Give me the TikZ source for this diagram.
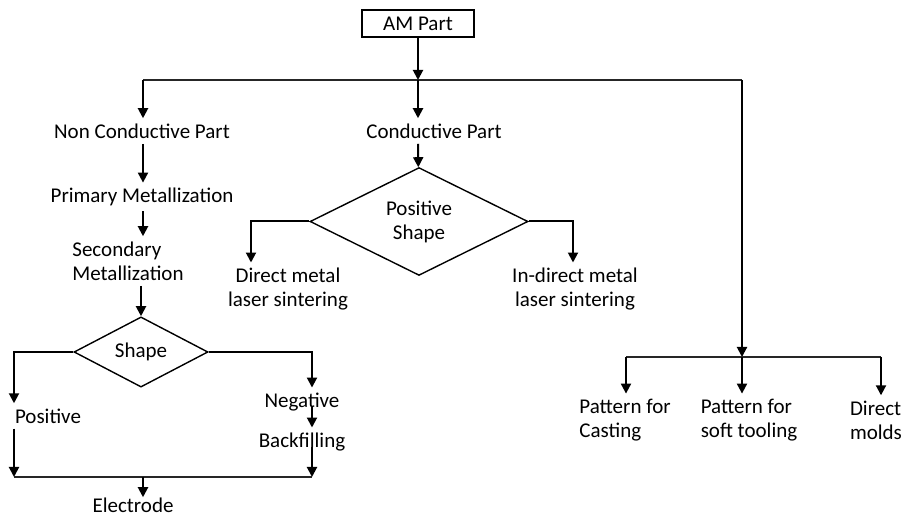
\documentclass[tikz,border=0pt]{standalone}
\usepackage{fontspec}
\setmainfont{Carlito}
\usetikzlibrary{arrows.meta,shapes.geometric}
\tikzset{
  step text/.style={inner sep=2.5pt,align=center,font=\fontsize{10.5pt}{12pt}\selectfont},
  part box/.style={step text,draw,line width=0.6pt,minimum width=56pt,minimum height=13.5pt,inner sep=0pt},
  choice/.style={diamond,draw,line width=0.7pt,inner sep=0pt,font=\fontsize{10.5pt}{12pt}\selectfont,align=center},
  link/.style={-{Triangle[length=5pt,width=5pt]},line width=1pt},
  bus/.style={line width=0.6pt,black!85},
}
\begin{document}
\begin{tikzpicture}[x=0.5pt,y=-0.5pt]
  \useasboundingbox (0,0) rectangle (904,517);
  \node[part box] (am) at (418,23.5) {AM Part};
  \coordinate (tee) at (418,80);
  \coordinate (busL) at (143,80);
  \coordinate (busR) at (742,80);
  \draw[bus] (busL) -- (busR);
  \draw[link] (am) -- (tee);
  \node[step text] (cond) at (434,131) {Conductive Part};
  \draw[link] (tee) -- (cond.north -| tee);
  \node[choice,minimum width=109pt,minimum height=46.5pt] (psh) at (419,221.5) {Positive\\Shape};
  \draw[link] (cond.south -| tee) -- (psh);
  \coordinate (dmTurn) at (251,221.5);
  \coordinate (idmTurn) at (573,221.5);
  \node[step text] (dm) at (288,289) {Direct metal\\laser sintering};
  \node[step text] (idm) at (575,289) {In-direct metal\\laser sintering};
  \draw[link] (psh.west) -- (dmTurn) -- (dm.north -| dmTurn);
  \draw[link] (psh.east) -- (idmTurn) -- (idm.north -| idmTurn);
  \node[step text] (noncond) at (142,131) {Non Conductive Part};
  \draw[link] (busL) -- (noncond.north -| busL);
  \node[step text] (prim) at (142,197) {Primary Metallization};
  \draw[link] (noncond.south -| busL) -- (prim.north -| busL);
  \node[step text,align=left] (sec) at (128,261) {Secondary\\Metallization};
  \draw[link] (prim.south -| busL) -- (sec.north -| busL);
  \node[choice,minimum width=67pt,minimum height=31pt] (shp) at (141,352) {Shape};
  \draw[link] (sec.south -| shp) -- (shp);
  \coordinate (posTurn) at (14,352);
  \coordinate (negTurn) at (312,352);
  \node[step text] (pos) at (48,416) {Positive};
  \node[step text] (neg) at (302,402) {Negative};
  \node[step text] (back) at (302,442) {Backfilling};
  \draw[link] (shp.west) -- (posTurn) -- (pos.north -| posTurn);
  \draw[link] (shp.east) -- (negTurn) -- (neg.north -| negTurn);
  \draw[link] (neg.base -| negTurn) -- (back.north -| negTurn);
  \coordinate (joinL) at (14,477);
  \coordinate (joinR) at (312,477);
  \coordinate (joinM) at (143,477);
  \draw[bus] (joinL) -- (joinR);
  \draw[link] (pos.south -| posTurn) -- (joinL);
  \draw[link] (back.base -| negTurn) -- (joinR);
  \node[step text,inner sep=0pt] (elec) at (133,505) {Electrode};
  \draw[link] (joinM) -- (elec.north -| joinM);
  \coordinate (moldTee) at (742,357);
  \coordinate (moldL) at (626,357);
  \coordinate (moldR) at (881,357);
  \draw[link] (busR) -- (moldTee);
  \draw[bus] (moldL) -- (moldR);
  \node[step text,align=left] (cast) at (625,420) {Pattern for\\Casting};
  \node[step text,align=left] (soft) at (749,420) {Pattern for\\soft tooling};
  \node[step text,align=left] (direct) at (876,420) {Direct\\molds};
  \foreach \t/\m in {moldL/cast,moldTee/soft,moldR/direct}{
    \draw[link] (\t) -- (\m.north -| \t);
  }
\end{tikzpicture}
\end{document}
